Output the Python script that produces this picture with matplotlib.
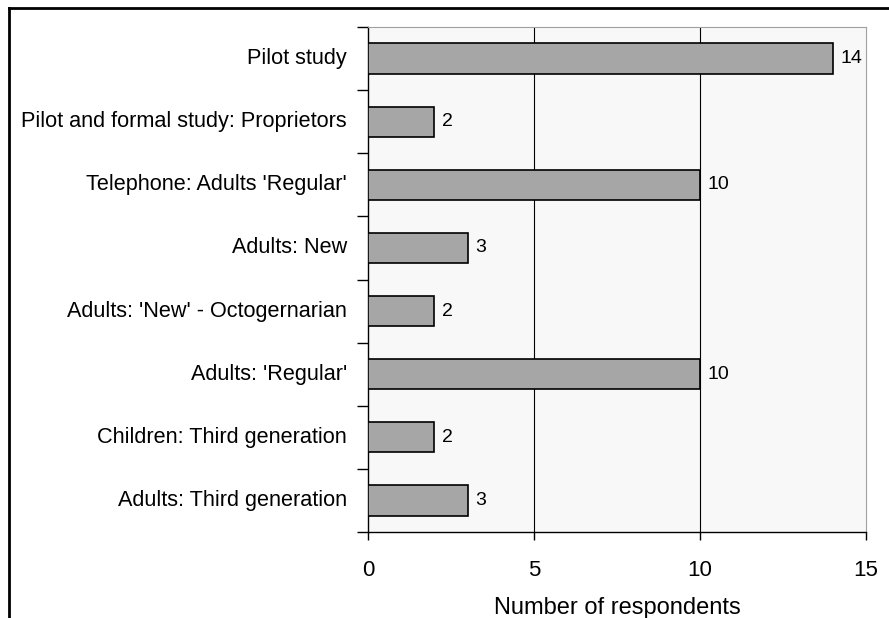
import numpy as np
import matplotlib.pyplot as plt
from matplotlib.lines import Line2D

plt.rcParams['font.family'] = ['Liberation Sans', 'DejaVu Sans']

categories = ["Pilot study",
              "Pilot and formal study: Proprietors",
              "Telephone: Adults 'Regular'",
              "Adults: New",
              "Adults: 'New' - Octogernarian",
              "Adults: 'Regular'",
              "Children: Third generation",
              "Adults: Third generation"]
counts = [14, 2, 10, 3, 2, 10, 2, 3]
xticks = [0, 5, 10, 15]

fig = plt.figure(figsize=(8.89, 6.18), dpi=100)
ax = fig.add_axes([368/889, 1-532/618, (866-368)/889, (532-27)/618])
ax.set_facecolor('#f8f8f8')

y = np.arange(len(categories))
ax.barh(y, counts, height=0.48, color='#a6a6a6', edgecolor='black', linewidth=1.2, zorder=3)
for yi, v in zip(y, counts):
    ax.text(v + 0.22, yi, str(v), va='center', ha='left', fontsize=14, zorder=4)

ax.set_xlim(0, 15)
ax.set_ylim(len(categories) - 0.5, -0.5)
ax.set_xticks(xticks)
ax.set_xticklabels([str(t) for t in xticks], fontsize=16)
ax.tick_params(axis='x', direction='out', length=6, width=1, pad=14)
for t in xticks[1:3]:
    ax.axvline(t, color='black', linewidth=0.8, zorder=1)

# category labels between boundary ticks
ax.set_yticks(np.arange(len(categories) + 1) - 0.5)
ax.set_yticklabels([])
ax.tick_params(axis='y', direction='out', length=8, width=1)
for yi, c in zip(y, categories):
    ax.text(-0.042, yi, c, transform=ax.get_yaxis_transform(), ha='right', va='center', fontsize=15.6)

ax.set_xlabel("Number of respondents", fontsize=17, labelpad=12)

for s in ['top', 'right']:
    ax.spines[s].set_color('#a0a0a0')
for s in ['left', 'bottom']:
    ax.spines[s].set_color('black')
    ax.spines[s].set_linewidth(1)

# outer frame (left and top edges visible)
fig.add_artist(Line2D([9/889, 9/889], [0, 1-8/618], transform=fig.transFigure, color='black', linewidth=2))
fig.add_artist(Line2D([9/889, 1], [1-8/618, 1-8/618], transform=fig.transFigure, color='black', linewidth=2))

fig.savefig('out.png', dpi=100)
